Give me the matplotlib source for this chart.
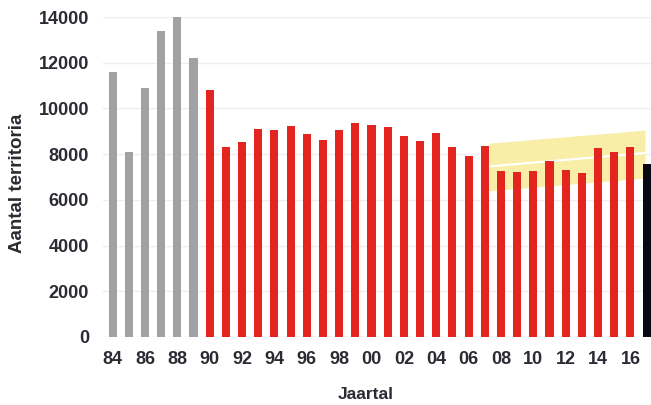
import numpy as np
import matplotlib.pyplot as plt

plt.rcParams['font.family'] = ['Liberation Sans', 'DejaVu Sans']

# jaartal en aantal territoria
years = list(range(1984, 2018))
counts = [11600, 8100, 10900, 13400, 14000, 12200,
          10800, 8330, 8530, 9110, 9040, 9230, 8870, 8630, 9060, 9360,
          9290, 9190, 8810, 8580, 8910, 8300, 7920, 8370, 7260, 7200,
          7260, 7700, 7320, 7180, 8270, 8080, 8310,
          7570]
colors = ['#a2a2a4'] * 6 + ['#e3241f'] * 27 + ['#080812']

# trendband 2007-2017
band_x = [2007.25, 2016.9]
band_low = [6400, 6950]
band_high = [8480, 9050]
trend = [7460, 8050]

fig = plt.figure(figsize=(6.51, 4.05), dpi=100)
ax = fig.add_axes([0.158, 0.168, 0.842, 0.79])

ax.fill_between(band_x, band_low, band_high, color='#f8eea8', zorder=1, lw=0)
ax.plot(band_x, trend, color='white', lw=1.5, zorder=1.5)
ax.bar(years, counts, width=0.5, color=colors, zorder=2, clip_on=False)

ax.set_xlim(1983.4, 2017.27)
ax.set_ylim(0, 14000)
ax.set_yticks(np.arange(0, 14001, 2000))
ax.set_xticks(years[::2])
ax.set_xticklabels(['%02d' % (y % 100) for y in years[::2]])
ax.grid(axis='y', color='#eeeeee', lw=1, zorder=0)
ax.set_axisbelow(True)
for s in ax.spines.values():
    s.set_visible(False)
ax.tick_params(length=0, labelsize=13, colors='#2b2b33')
ax.tick_params(axis='y', pad=10)
ax.tick_params(axis='x', pad=10)
for t in ax.get_xticklabels() + ax.get_yticklabels():
    t.set_fontweight('bold')

ax.set_ylabel('Aantal territoria', fontsize=13.5, fontweight='bold', color='#2b2b33')
ax.yaxis.set_label_coords(-0.14, 0.48)
ax.set_xlabel('Jaartal', fontsize=12.5, fontweight='bold', color='#2b2b33')
ax.xaxis.set_label_coords(0.48, -0.155)

fig.savefig('out.png', dpi=100)
